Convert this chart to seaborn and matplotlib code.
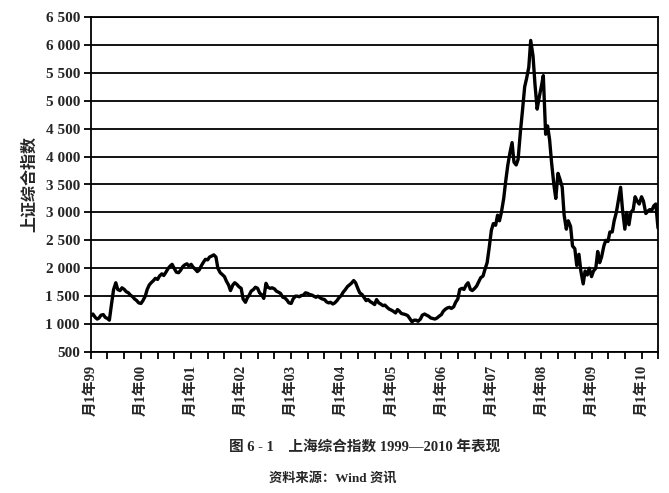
import numpy as np
import pandas as pd
import seaborn as sns
import matplotlib.pyplot as plt
import matplotlib.dates as mdates

# semi-monthly readings (1st and 15th of each month) of the index
idx_1999 = [1150, 1180, 1120, 1090, 1110, 1160, 1170, 1120, 1100, 1070, 1380, 1620,
            1740, 1620, 1600, 1650, 1620, 1580, 1560, 1520, 1490, 1450, 1420, 1380]
idx_2000 = [1370, 1420, 1500, 1620, 1700, 1740, 1780, 1820, 1800, 1860, 1900, 1870,
            1930, 1990, 2040, 2070, 1990, 1930, 1920, 1960, 2030, 2060, 2080, 2040]
idx_2001 = [2070, 2020, 1980, 1940, 1970, 2040, 2110, 2160, 2150, 2200, 2220, 2240,
            2200, 2000, 1920, 1890, 1850, 1770, 1700, 1600, 1700, 1740, 1710, 1670]
idx_2002 = [1640, 1450, 1390, 1470, 1520, 1590, 1620, 1660, 1640, 1560, 1520, 1460,
            1730, 1660, 1640, 1650, 1630, 1590, 1570, 1550, 1480, 1470, 1430, 1380]
idx_2003 = [1370, 1450, 1500, 1500, 1490, 1510, 1520, 1560, 1550, 1530, 1520, 1500,
            1480, 1500, 1470, 1450, 1440, 1400, 1380, 1390, 1360, 1380, 1420, 1470]
idx_2004 = [1510, 1570, 1620, 1670, 1700, 1730, 1780, 1740, 1640, 1560, 1530, 1480,
            1420, 1440, 1400, 1380, 1350, 1440, 1380, 1360, 1330, 1340, 1300, 1270]
idx_2005 = [1250, 1230, 1200, 1260, 1230, 1190, 1180, 1170, 1150, 1100, 1040, 1070,
            1070, 1050, 1090, 1160, 1180, 1160, 1140, 1110, 1100, 1090, 1110, 1140]
idx_2006 = [1170, 1230, 1270, 1290, 1300, 1280, 1310, 1390, 1450, 1620, 1640, 1620,
            1700, 1740, 1620, 1600, 1640, 1680, 1760, 1830, 1860, 1980, 2100, 2350]
idx_2007 = [2680, 2800, 2770, 2950, 2850, 3000, 3250, 3550, 3850, 4050, 4250, 3900,
            3850, 3950, 4450, 4800, 5250, 5400, 5600, 6080, 5800, 5300, 4850, 5050]
idx_2008 = [5260, 5450, 4400, 4550, 4300, 3900, 3500, 3250, 3700, 3600, 3450, 2950,
            2700, 2850, 2750, 2400, 2350, 2050, 2250, 1950, 1720, 1950, 1880, 2000]
idx_2009 = [1850, 1950, 2000, 2300, 2100, 2200, 2400, 2500, 2480, 2650, 2650, 2850,
            3000, 3200, 3450, 3050, 2700, 3000, 2780, 3000, 3050, 3280, 3200, 3150]
idx_2010 = [3280, 3200, 2980, 3020, 3050, 3030, 3120, 3150, 2720]

years = list(range(1999, 2011))
tick_labels = [f"月1年{y % 100:02d}" for y in years]
y_ticks = list(range(500, 7000, 500))

values = (idx_1999 + idx_2000 + idx_2001 + idx_2002 + idx_2003 + idx_2004 +
          idx_2005 + idx_2006 + idx_2007 + idx_2008 + idx_2009 + idx_2010)
dates = pd.date_range("1999-01-01", periods=len(values), freq="SMS")
df = pd.DataFrame({"date": dates, "index": values})

sns.set_style("white")
plt.rcParams['font.family'] = ['Liberation Serif', 'Noto Sans CJK SC', 'DejaVu Sans']

fig = plt.figure(figsize=(6.69, 4.93), dpi=100)
ax = fig.add_axes([91 / 669, 1 - 352 / 493, (658 - 91) / 669, (352 - 17) / 493])

sns.lineplot(data=df, x="date", y="index", color="black", linewidth=2.4, ax=ax)

ax.set_xlim(pd.Timestamp("1999-01-01"), pd.Timestamp("2010-05-01"))
ax.set_ylim(500, 6500)

for v in y_ticks:
    ax.axhline(v, color="black", linewidth=1.3, zorder=0)

ax.set_yticks(y_ticks)
ax.set_yticklabels([f"{v:,}".replace(",", " ") for v in y_ticks],
                   fontsize=11, family=['Liberation Serif'], fontweight='bold')
ax.set_xticks([pd.Timestamp(f"{y}-01-01") for y in years])
ax.set_xticklabels(tick_labels, rotation=90, fontsize=10.5,
                   family=['Liberation Serif', 'Noto Sans CJK SC'], fontweight='bold')
ax.xaxis.set_minor_locator(mdates.MonthLocator(bymonth=[5, 9]))
ax.tick_params(axis="both", which="both", direction="out", length=5, width=1.3,
               color="black", bottom=True, left=True)
ax.tick_params(axis="x", pad=4)
ax.tick_params(axis="y", pad=3)

for s in ax.spines.values():
    s.set_color("black")
    s.set_linewidth(1.3)

ax.set_xlabel("")
ax.set_ylabel("上证综合指数", fontsize=11.5, family=['Noto Sans CJK SC'],
              fontweight='bold', labelpad=6)

fig.text(365 / 669, 1 - 447 / 493, "图 6 - 1    上海综合指数 1999—2010 年表现",
         ha="center", va="center", fontsize=10.5, fontweight="bold",
         family=['Liberation Serif', 'Noto Sans CJK SC'])
fig.text(333 / 669, 1 - 478 / 493, "资料来源：Wind 资讯",
         ha="center", va="center", fontsize=9.5, fontweight="bold",
         family=['Liberation Serif', 'Noto Sans CJK SC'])

fig.savefig("out.png", dpi=100)
